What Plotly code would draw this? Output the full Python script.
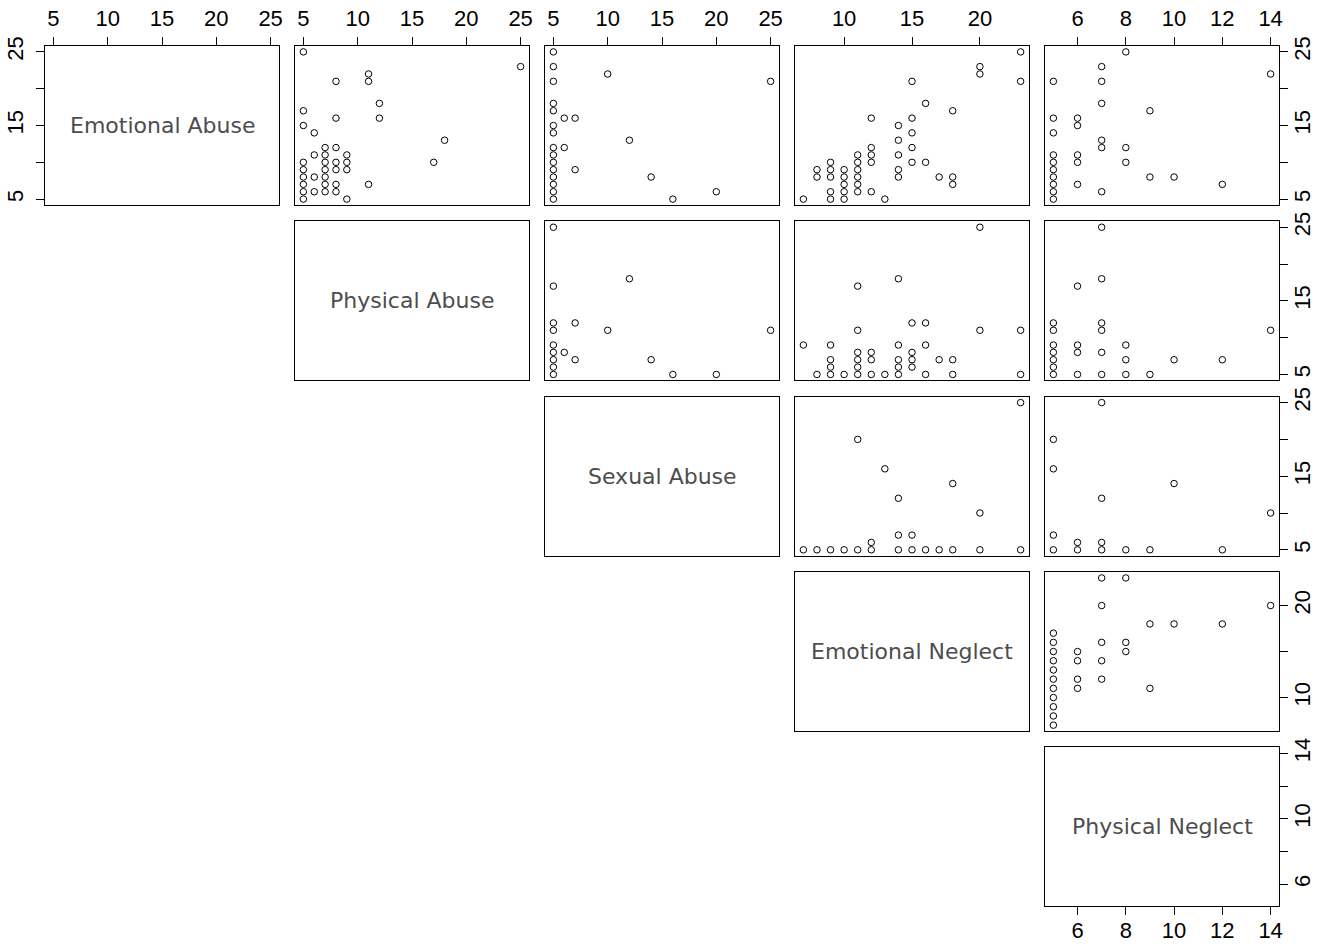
import plotly.graph_objects as go

# ---- variables (diagonal) ----
var_names = ["Emotional Abuse", "Physical Abuse", "Sexual Abuse", "Emotional Neglect", "Physical Neglect"]
var_min = [5, 5, 5, 7, 5]
var_max = [25, 25, 25, 23, 14]
tick_vals = [[5, 10, 15, 20, 25], [5, 10, 15, 20, 25], [5, 10, 15, 20, 25], [10, 15, 20], [6, 8, 10, 12, 14]]
top_tick_text = [["5", "10", "15", "20", "25"], ["5", "10", "15", "20", "25"], ["5", "10", "15", "20", "25"],
                 ["10", "15", "20"], ["6", "8", "10", "12", "14"]]
side_tick_text = [["5", "", "15", "", "25"], ["5", "", "15", "", "25"], ["5", "", "15", "", "25"],
                  ["10", "", "20"], ["6", "", "10", "", "14"]]

# ---- panel data (x = column variable, y = row variable) ----
ea_pa_x = [5, 25, 11, 8, 11, 12, 5, 8, 12, 5, 6, 18, 7, 8, 6, 7, 9, 5, 7, 8, 9, 17, 5, 7, 8, 9, 5, 6, 7, 5, 7, 8, 11, 5, 6, 7, 8, 5, 9]
ea_pa_y = [25, 23, 22, 21, 21, 18, 17, 16, 16, 15, 14, 13, 12, 12, 11, 11, 11, 10, 10, 10, 10, 10, 9, 9, 9, 9, 8, 8, 8, 7, 7, 7, 7, 6, 6, 6, 6, 5, 5]

ea_sa_x = [5, 5, 10, 5, 25, 5, 5, 6, 7, 5, 5, 12, 5, 6, 5, 5, 5, 7, 5, 14, 5, 5, 20, 5, 16]
ea_sa_y = [25, 23, 22, 21, 21, 18, 17, 16, 16, 15, 14, 13, 12, 12, 11, 10, 9, 9, 8, 8, 7, 6, 6, 5, 5]

ea_en_x = [23, 20, 20, 15, 23, 16, 18, 12, 15, 14, 15, 14, 12, 15, 11, 12, 14, 9, 11, 12, 15, 16, 8, 9, 10, 11, 14,
           8, 9, 10, 11, 14, 17, 18, 10, 11, 18, 9, 10, 11, 12, 7, 9, 10, 13]
ea_en_y = [25, 23, 22, 21, 21, 18, 17, 16, 16, 15, 14, 13, 12, 12, 11, 11, 11, 10, 10, 10, 10, 10, 9, 9, 9, 9, 9,
           8, 8, 8, 8, 8, 8, 8, 7, 7, 7, 6, 6, 6, 6, 5, 5, 5, 5]

ea_pn_x = [8, 7, 14, 5, 7, 7, 9, 5, 6, 6, 5, 7, 7, 8, 5, 6, 5, 6, 8, 5, 5, 9, 10, 5, 6, 12, 5, 7, 5]
ea_pn_y = [25, 23, 22, 21, 21, 18, 17, 16, 16, 15, 14, 13, 12, 12, 11, 11, 10, 10, 10, 9, 8, 8, 8, 7, 7, 7, 6, 6, 5]

pa_sa_x = [5, 12, 5, 5, 7, 5, 10, 25, 5, 5, 6, 5, 7, 14, 5, 5, 16, 20]
pa_sa_y = [25, 18, 17, 12, 12, 11, 11, 11, 9, 8, 8, 7, 7, 7, 6, 5, 5, 5]

pa_en_x = [20, 14, 11, 15, 16, 11, 20, 23, 7, 9, 14, 16, 11, 12, 15, 9, 11, 12, 14, 15, 17, 18, 9, 11, 14, 15,
           8, 9, 10, 11, 12, 13, 14, 16, 18, 23]
pa_en_y = [25, 18, 17, 12, 12, 11, 11, 11, 9, 9, 9, 9, 8, 8, 8, 7, 7, 7, 7, 7, 7, 7, 6, 6, 6, 6,
           5, 5, 5, 5, 5, 5, 5, 5, 5, 5]

pa_pn_x = [7, 7, 6, 5, 7, 5, 7, 14, 5, 6, 8, 5, 6, 7, 5, 8, 10, 12, 5, 5, 6, 7, 8, 9]
pa_pn_y = [25, 18, 17, 12, 12, 11, 11, 11, 9, 9, 9, 8, 8, 8, 7, 7, 7, 7, 6, 5, 5, 5, 5, 5]

sa_en_x = [23, 11, 13, 18, 14, 20, 14, 15, 12, 7, 8, 9, 10, 11, 12, 14, 15, 16, 17, 18, 20, 23]
sa_en_y = [25, 20, 16, 14, 12, 10, 7, 7, 6, 5, 5, 5, 5, 5, 5, 5, 5, 5, 5, 5, 5, 5]

sa_pn_x = [7, 5, 5, 10, 7, 14, 5, 6, 7, 5, 6, 7, 8, 9, 12]
sa_pn_y = [25, 20, 16, 14, 12, 10, 7, 6, 6, 5, 5, 5, 5, 5, 5]

en_pn_x = [7, 8, 7, 14, 9, 10, 12, 5, 5, 7, 8, 5, 6, 8, 5, 6, 7, 5, 5, 6, 7, 5, 6, 9, 5, 5, 5, 5]
en_pn_y = [23, 23, 20, 20, 18, 18, 18, 17, 16, 16, 16, 15, 15, 15, 14, 14, 14, 13, 12, 12, 12, 11, 11, 11, 10, 9, 8, 7]

panel_data = {
    (0, 1): (ea_pa_x, ea_pa_y), (0, 2): (ea_sa_x, ea_sa_y), (0, 3): (ea_en_x, ea_en_y), (0, 4): (ea_pn_x, ea_pn_y),
    (1, 2): (pa_sa_x, pa_sa_y), (1, 3): (pa_en_x, pa_en_y), (1, 4): (pa_pn_x, pa_pn_y),
    (2, 3): (sa_en_x, sa_en_y), (2, 4): (sa_pn_x, sa_pn_y),
    (3, 4): (en_pn_x, en_pn_y),
}

W, H = 1326, 944
COL_LEFT, COL_STEP, PW = 44.7, 250.0, 234.6
ROW_TOP, ROW_STEP, PH = 46.0, 175.35, 159.0
TICKFONT = dict(family="Liberation Sans, Arial, sans-serif", size=22, color="black")


def rng(k):
    pad = 0.04 * (var_max[k] - var_min[k])
    return [var_min[k] - pad, var_max[k] + pad]


fig = go.Figure()
layout = dict(width=W, height=H, margin=dict(l=0, r=0, t=0, b=0, autoexpand=False),
              template="none",
              paper_bgcolor="white", plot_bgcolor="white", showlegend=False, annotations=[])

n = 0
for i in range(5):
    for j in range(i, 5):
        n += 1
        xa = "xaxis" if n == 1 else f"xaxis{n}"
        ya = "yaxis" if n == 1 else f"yaxis{n}"
        xr = "x" if n == 1 else f"x{n}"
        yr = "y" if n == 1 else f"y{n}"
        x0 = (COL_LEFT + COL_STEP * j) / W
        x1 = (COL_LEFT + COL_STEP * j + PW) / W
        top = ROW_TOP + ROW_STEP * i
        y1 = 1 - top / H
        y0 = 1 - (top + PH) / H
        xd = dict(domain=[x0, x1], range=rng(j), anchor=yr, showline=True, mirror=True,
                  linecolor="black", linewidth=1, showgrid=False, zeroline=False, automargin=False,
                  ticks="", showticklabels=False, fixedrange=True)
        yd = dict(domain=[y0, y1], range=rng(i), anchor=xr, showline=True, mirror=True,
                  linecolor="black", linewidth=1, showgrid=False, zeroline=False, automargin=False,
                  ticks="", showticklabels=False, fixedrange=True)
        if i == 0:
            xd.update(side="top", ticks="outside", ticklen=8, tickcolor="black", tickwidth=1,
                      showticklabels=True, tickvals=tick_vals[j], ticktext=top_tick_text[j],
                      tickfont=TICKFONT, ticklabelstandoff=2)
        if i == 4 and j == 4:
            xd.update(side="bottom", ticks="outside", ticklen=8, tickcolor="black", tickwidth=1,
                      showticklabels=True, tickvals=tick_vals[j], ticktext=top_tick_text[j],
                      tickfont=TICKFONT, ticklabelstandoff=-4)
        if j == 4:
            yd.update(side="right", ticks="outside", ticklen=8, tickcolor="black", tickwidth=1,
                      showticklabels=True, tickvals=tick_vals[i], ticktext=side_tick_text[i],
                      tickfont=TICKFONT, tickangle=-90, ticklabelstandoff=-5)
        if i == 0 and j == 0:
            yd.update(side="left", ticks="outside", ticklen=8, tickcolor="black", tickwidth=1,
                      showticklabels=True, tickvals=tick_vals[i], ticktext=side_tick_text[i],
                      tickfont=TICKFONT, tickangle=-90, ticklabelstandoff=4)
        layout[xa] = xd
        layout[ya] = yd
        if i == j:
            fig.add_trace(go.Scatter(x=[], y=[], xaxis=xr, yaxis=yr, mode="markers", hoverinfo="skip"))
            layout["annotations"].append(dict(
                text=var_names[i], xref=f"{xr} domain", yref=f"{yr} domain", x=0.5, y=0.5,
                showarrow=False, xanchor="center", yanchor="middle",
                font=dict(family="DejaVu Sans, Verdana, sans-serif", size=22, color="#4d4d4d")))
        else:
            px_, py_ = panel_data[(i, j)]
            fig.add_trace(go.Scatter(
                x=px_, y=py_, xaxis=xr, yaxis=yr, mode="markers",
                marker=dict(symbol="circle-open", size=6.5, color="black", line=dict(width=1, color="black"))))

fig.update_layout(**layout)
fig.write_html("out.html")
